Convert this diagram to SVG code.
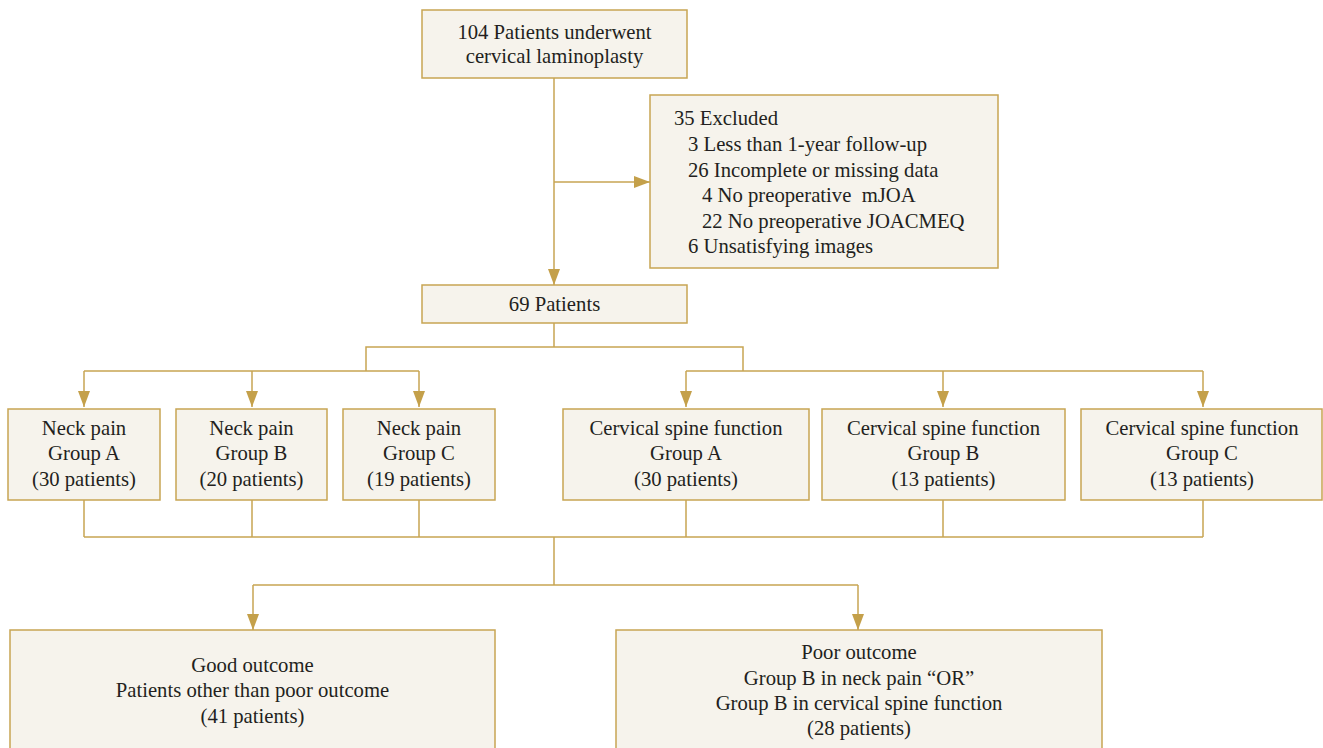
<svg xmlns="http://www.w3.org/2000/svg" width="1323" height="748" viewBox="0 0 1323 748" font-family="'Liberation Serif', 'DejaVu Serif', 'Times New Roman', serif">
<style>
.box{fill:#F6F3EC;stroke:#C7A553;stroke-width:1.5}
.ln{fill:none;stroke:#C7A553;stroke-width:1.5}
text{font-family:'Liberation Serif','DejaVu Serif','Times New Roman',serif;font-size:20.7px;fill:#231F20}
.c{text-anchor:middle}
</style>
<defs>
<marker id="ah" markerUnits="userSpaceOnUse" markerWidth="16" markerHeight="12" refX="16" refY="6" orient="auto">
<path d="M0,0 L16,6 L0,12 z" fill="#C4A04A"/>
</marker>
</defs>
<g id="connectors">
<path class="ln" d="M554,78 V285" marker-end="url(#ah)"/>
<path class="ln" d="M554,182 H650" marker-end="url(#ah)"/>
<path class="ln" d="M554,323 V347 M366,371 V347 H743 V371"/>
<path class="ln" d="M84,371 H419 M686,371 H1203"/>
<path class="ln" d="M84,371 V407" marker-end="url(#ah)"/>
<path class="ln" d="M252,371 V407" marker-end="url(#ah)"/>
<path class="ln" d="M419,371 V407" marker-end="url(#ah)"/>
<path class="ln" d="M686,371 V407" marker-end="url(#ah)"/>
<path class="ln" d="M943,371 V407" marker-end="url(#ah)"/>
<path class="ln" d="M1203,371 V407" marker-end="url(#ah)"/>
<path class="ln" d="M84,500 V537 M252,500 V537 M419,500 V537 M686,500 V537 M943,500 V537 M1203,500 V537 M84,537 H1203 M554,537 V585 M253,585 H858"/>
<path class="ln" d="M253,585 V630" marker-end="url(#ah)"/>
<path class="ln" d="M858,585 V630" marker-end="url(#ah)"/>
</g>
<g id="n_start">
<rect class="box" x="422" y="10" width="265" height="68"/>
<text class="c" x="554.5" y="39">104 Patients underwent</text>
<text class="c" x="554.5" y="63">cervical laminoplasty</text>
</g>
<g id="n_excluded">
<rect class="box" x="650" y="95" width="348" height="173"/>
<text x="674" y="125">35 Excluded</text>
<text x="688" y="151">3 Less than 1-year follow-up</text>
<text x="688" y="177">26 Incomplete or missing data</text>
<text x="702" y="202" xml:space="preserve">4 No preoperative  mJOA</text>
<text x="702" y="228">22 No preoperative JOACMEQ</text>
<text x="688" y="253">6 Unsatisfying images</text>
</g>
<g id="n_69">
<rect class="box" x="422" y="285" width="265" height="38"/>
<text class="c" x="554.5" y="311">69 Patients</text>
</g>
<g id="n_npA">
<rect class="box" x="8" y="409" width="152" height="91"/>
<text class="c" x="84" y="435">Neck pain</text>
<text class="c" x="84" y="460">Group A</text>
<text class="c" x="84" y="486">(30 patients)</text>
</g>
<g id="n_npB">
<rect class="box" x="176" y="409" width="151" height="91"/>
<text class="c" x="251.5" y="435">Neck pain</text>
<text class="c" x="251.5" y="460">Group B</text>
<text class="c" x="251.5" y="486">(20 patients)</text>
</g>
<g id="n_npC">
<rect class="box" x="343" y="409" width="152" height="91"/>
<text class="c" x="419" y="435">Neck pain</text>
<text class="c" x="419" y="460">Group C</text>
<text class="c" x="419" y="486">(19 patients)</text>
</g>
<g id="n_csA">
<rect class="box" x="563" y="409" width="246" height="91"/>
<text class="c" x="686" y="435">Cervical spine function</text>
<text class="c" x="686" y="460">Group A</text>
<text class="c" x="686" y="486">(30 patients)</text>
</g>
<g id="n_csB">
<rect class="box" x="822" y="409" width="243" height="91"/>
<text class="c" x="943.5" y="435">Cervical spine function</text>
<text class="c" x="943.5" y="460">Group B</text>
<text class="c" x="943.5" y="486">(13 patients)</text>
</g>
<g id="n_csC">
<rect class="box" x="1081" y="409" width="241" height="91"/>
<text class="c" x="1202" y="435">Cervical spine function</text>
<text class="c" x="1202" y="460">Group C</text>
<text class="c" x="1202" y="486">(13 patients)</text>
</g>
<g id="n_good">
<rect class="box" x="10" y="630" width="485" height="130"/>
<text class="c" x="252.5" y="672">Good outcome</text>
<text class="c" x="252.5" y="697">Patients other than poor outcome</text>
<text class="c" x="252.5" y="723">(41 patients)</text>
</g>
<g id="n_poor">
<rect class="box" x="616" y="630" width="486" height="130"/>
<text class="c" x="859" y="659">Poor outcome</text>
<text class="c" x="859" y="685">Group B in neck pain “OR”</text>
<text class="c" x="859" y="710">Group B in cervical spine function</text>
<text class="c" x="859" y="735">(28 patients)</text>
</g>
</svg>
